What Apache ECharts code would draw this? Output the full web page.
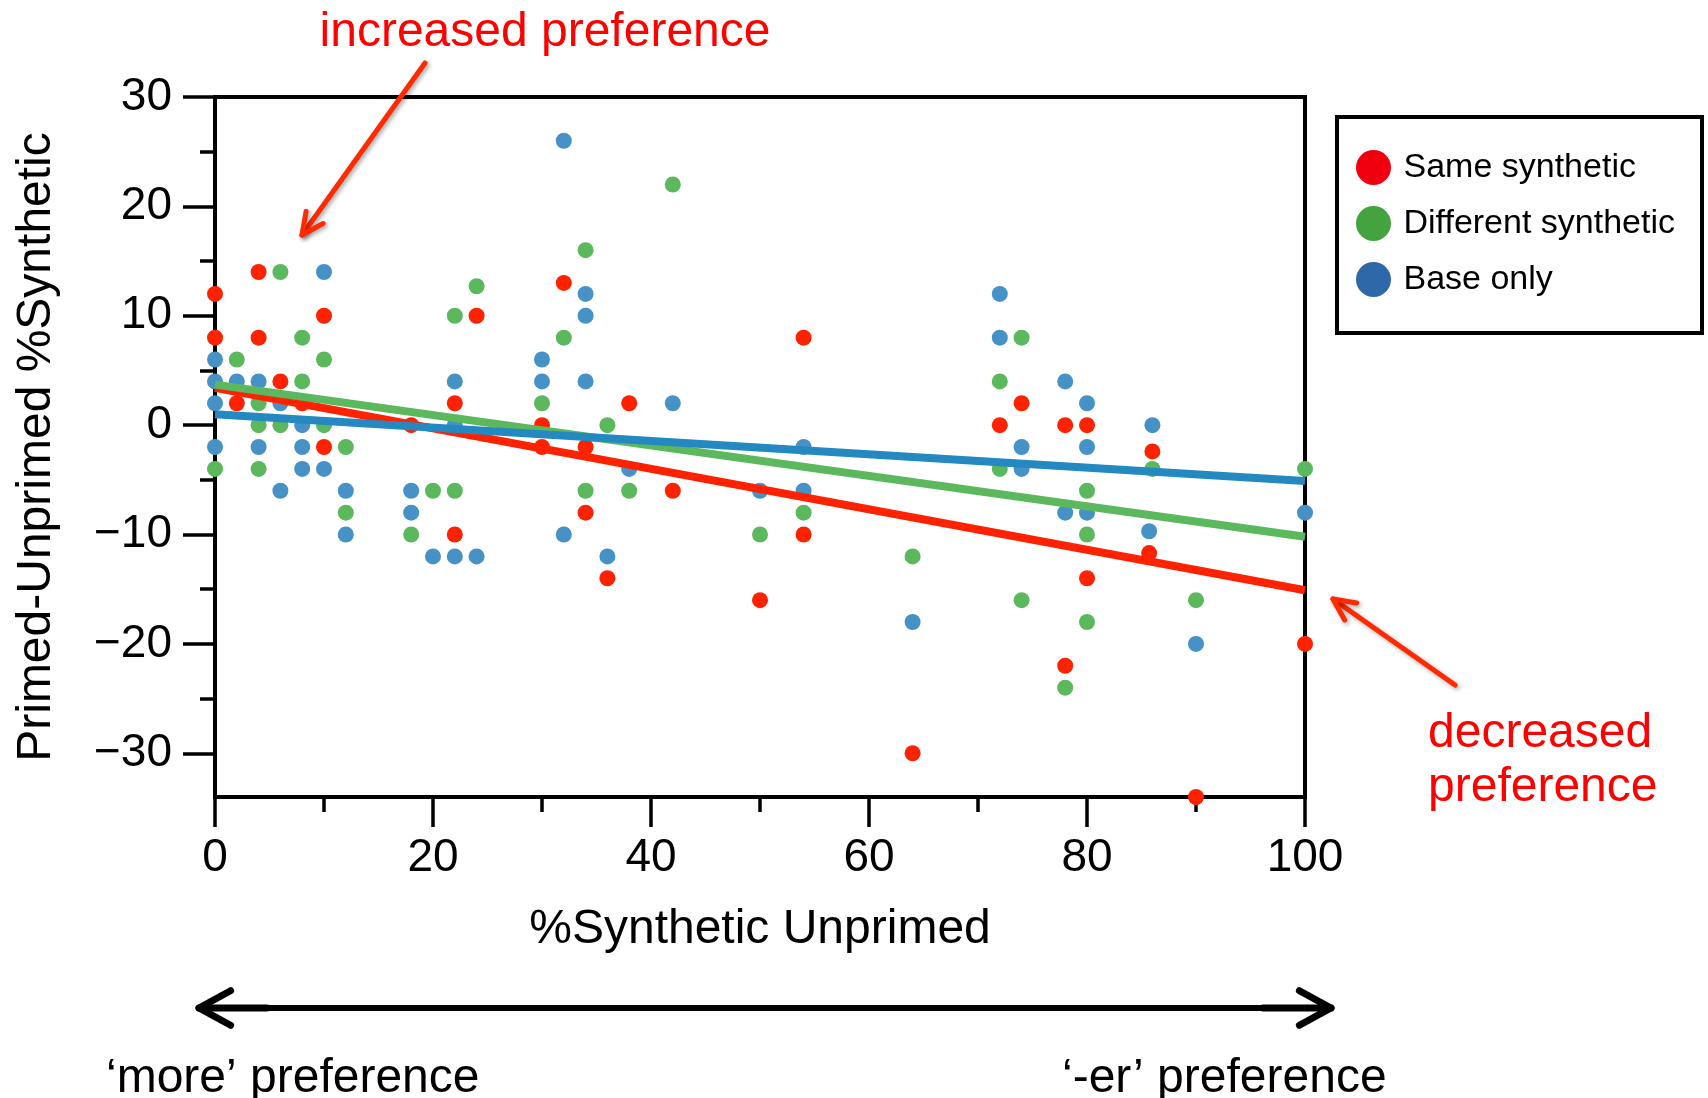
<!DOCTYPE html>
<html>
<head>
<meta charset="utf-8">
<style>
  html, body { margin: 0; padding: 0; background: #ffffff; }
  #chart { width: 1708px; height: 1098px; }
</style>
<script src="https://cdn.jsdelivr.net/npm/echarts@6.0.0/dist/echarts.min.js"></script>
</head>
<body>
<div id="chart"></div>
<script>
// [%Synthetic unprimed, primed - unprimed %Synthetic]
const sameSynthetic = [
  [0, 12], [0, 8], [2, 2], [4, 14], [4, 8], [6, 4], [8, 2], [10, 10], [10, -2],
  [18, 0], [22, 2], [22, -10], [24, 10], [30, 0], [30, -2], [32, 13], [34, -2],
  [34, -8], [36, -14], [38, 2], [42, -6], [50, -16], [54, 8], [54, -10], [64, -30],
  [72, 0], [74, 2], [78, 0], [78, -22], [80, 0], [80, -14], [86, -2.4], [85.7, -11.7],
  [90, -34], [100, -20]
];
const differentSynthetic = [
  [0, -4], [2, 6], [4, 2], [4, 0], [4, -4], [6, 14], [6, 0], [8, 8], [8, 4],
  [10, 6], [10, 0], [12, -2], [12, -8], [18, -10], [20, -6], [22, 10], [22, -6],
  [24, 12.7], [30, 2], [32, 8], [34, 16], [34, -6], [36, 0], [38, -6], [42, 22],
  [50, -10], [54, -8], [64, -12], [72, 4], [72, -4], [74, 8], [74, -16], [78, -24],
  [80, -6], [80, -10], [80, -18], [86, -4], [90, -16], [100, -4]
];
const baseOnly = [
  [0, 6], [0, 4], [0, 2], [0, -2], [2, 4], [4, 4], [4, -2], [6, 2], [6, -6],
  [8, 0], [8, -2], [8, -4], [10, 14], [10, -4], [12, -6], [12, -10], [18, -6],
  [18, -8], [20, -12], [22, 4], [22, 0], [22, -12], [24, -12], [30, 6], [30, 4],
  [32, 26], [32, -10], [34, 12], [34, 10], [34, 4], [36, -12], [38, -4], [42, 2],
  [50, -6], [54, -2], [54, -6], [64, -18], [72, 12], [72, 8], [74, -2], [74, -4],
  [78, 4], [78, -8], [80, 2], [80, -2], [80, -8], [86, 0], [85.7, -9.7], [90, -20],
  [100, -8]
];

// Fitted regression lines, values at the two ends of the x range
const trendX = [0, 100];
const sameTrend = [3.4, -15.1];
const differentTrend = [3.7, -10.2];
const baseTrend = [1.0, -5.1];

const seriesNames = ['Same synthetic', 'Different synthetic', 'Base only'];
const yMajorTicks = [-30, -20, -10, 0, 10, 20, 30];
const yMinorTicks = [-25, -15, -5, 5, 15, 25];

const FONT = '"Liberation Sans", Arial, Helvetica, sans-serif';
const DOT = { same: '#ff2200', diff: '#5cb85c', base: '#4691c5' };
const LINE = { same: '#ff2200', diff: '#5cb85c', base: '#2389c0' };
const KEY = { same: '#f0000f', diff: '#45a33f', base: '#2f68a8' };
const ARROW_RED = '#ff2a00';

const chart = echarts.init(document.getElementById('chart'), null, { renderer: 'canvas' });

function trendPoints(values) {
  return trendX.map((x, i) => [x, values[i]]);
}

function arrowElements(x1, y1, x2, y2, color, width, headLen, spread, shadow) {
  const ang = Math.atan2(y2 - y1, x2 - x1);
  const a1 = ang + Math.PI - spread;
  const a2 = ang + Math.PI + spread;
  const style = {
    stroke: color, lineWidth: width, lineCap: 'round', lineJoin: 'round', fill: null
  };
  if (shadow) {
    style.shadowColor = 'rgba(0,0,0,0.35)';
    style.shadowBlur = 4;
    style.shadowOffsetX = 2;
    style.shadowOffsetY = 2;
  }
  return [
    { type: 'line', shape: { x1, y1, x2, y2 }, style: Object.assign({}, style), silent: true, z: 100 },
    {
      type: 'polyline',
      shape: {
        points: [
          [x2 + headLen * Math.cos(a1), y2 + headLen * Math.sin(a1)],
          [x2, y2],
          [x2 + headLen * Math.cos(a2), y2 + headLen * Math.sin(a2)]
        ]
      },
      style: Object.assign({}, style), silent: true, z: 100
    }
  ];
}

function label(text, x, y, align, color, size) {
  return {
    type: 'text', x, y, silent: true, z: 100,
    style: {
      text, fill: color, fontSize: size, fontFamily: FONT,
      align: align, verticalAlign: 'middle'
    }
  };
}

const graphics = [].concat(
  [label('increased preference', 545, 33, 'center', '#ff0000', 48)],
  arrowElements(425, 63, 302, 235, ARROW_RED, 5, 24, 0.45, true),
  arrowElements(1455, 685, 1333, 599, ARROW_RED, 5, 24, 0.45, true),
  [label('decreased', 1428, 734, 'left', '#ff0000', 48),
   label('preference', 1428, 788, 'left', '#ff0000', 48)],
  arrowElements(1263, 1008, 1331, 1008, '#000000', 7, 36, 0.5, false),
  arrowElements(267, 1008, 199, 1008, '#000000', 7, 36, 0.5, false),
  [{ type: 'line', shape: { x1: 202, y1: 1008, x2: 1328, y2: 1008 },
     style: { stroke: '#000', lineWidth: 6 }, silent: true, z: 100 }],
  [label('\u2018more\u2019 preference', 106, 1079, 'left', '#000000', 48),
   label('\u2018-er\u2019 preference', 1062, 1079, 'left', '#000000', 48)]
);

const minusFmt = v => String(v).replace('-', '\u2212');

const option = {
  animation: false,
  backgroundColor: '#ffffff',
  textStyle: { fontFamily: FONT },
  grid: {
    left: 215, top: 97, width: 1090, height: 700,
    show: true, borderColor: '#000', borderWidth: 4, backgroundColor: 'transparent'
  },
  legend: {
    orient: 'vertical',
    left: 1337, top: 117,
    padding: [33, 27, 36, 19],
    itemGap: 21,
    itemWidth: 50, itemHeight: 35,
    icon: 'circle',
    borderColor: '#000', borderWidth: 4, backgroundColor: '#fff',
    textStyle: { fontSize: 34, color: '#000', fontFamily: FONT },
    data: [
      { name: seriesNames[0], itemStyle: { color: KEY.same } },
      { name: seriesNames[1], itemStyle: { color: KEY.diff } },
      { name: seriesNames[2], itemStyle: { color: KEY.base } }
    ]
  },
  xAxis: {
    type: 'value', min: 0, max: 100, interval: 20,
    name: '%Synthetic Unprimed', nameLocation: 'middle', nameGap: 109,
    nameTextStyle: { fontSize: 48, color: '#000', fontFamily: FONT },
    axisLine: { show: true, onZero: false, lineStyle: { color: '#000', width: 4 } },
    axisTick: { show: true, length: 30, lineStyle: { color: '#000', width: 3.5 } },
    minorTick: { show: true, splitNumber: 2, length: 15, lineStyle: { color: '#000', width: 3.5 } },
    axisLabel: { fontSize: 46, color: '#000', margin: 38, fontFamily: FONT },
    splitLine: { show: false }, minorSplitLine: { show: false }
  },
  yAxis: [
    {
      type: 'value', min: -34, max: 30, position: 'left',
      name: 'Primed-Unprimed %Synthetic', nameLocation: 'middle', nameGap: 154,
      nameTextStyle: { fontSize: 48, color: '#000', fontFamily: FONT },
      axisLine: { show: true, onZero: false, lineStyle: { color: '#000', width: 4 } },
      axisTick: { show: true, length: 32, customValues: yMajorTicks, lineStyle: { color: '#000', width: 3.5 } },
      axisLabel: { fontSize: 46, color: '#000', margin: 43, customValues: yMajorTicks, formatter: minusFmt, fontFamily: FONT },
      splitLine: { show: false }
    },
    {
      type: 'value', min: -34, max: 30, position: 'left', offset: 0,
      axisLine: { show: false },
      axisTick: { show: true, length: 15, customValues: yMinorTicks, lineStyle: { color: '#000', width: 3.5 } },
      axisLabel: { show: false },
      splitLine: { show: false }
    }
  ],
  series: [
    { name: seriesNames[0], type: 'scatter', data: sameSynthetic, symbolSize: 16, itemStyle: { color: DOT.same, opacity: 1 }, z: 2 },
    { name: seriesNames[1], type: 'scatter', data: differentSynthetic, symbolSize: 16, itemStyle: { color: DOT.diff, opacity: 1 }, z: 2 },
    { name: seriesNames[2], type: 'scatter', data: baseOnly, symbolSize: 16, itemStyle: { color: DOT.base, opacity: 1 }, z: 2 },
    { name: 'same-fit', type: 'line', data: trendPoints(sameTrend), showSymbol: false, silent: true, lineStyle: { color: LINE.same, width: 8 }, z: 3 },
    { name: 'different-fit', type: 'line', data: trendPoints(differentTrend), showSymbol: false, silent: true, lineStyle: { color: LINE.diff, width: 8 }, z: 3 },
    { name: 'base-fit', type: 'line', data: trendPoints(baseTrend), showSymbol: false, silent: true, lineStyle: { color: LINE.base, width: 8 }, z: 3 }
  ],
  graphic: graphics
};

chart.setOption(option);
</script>
</body>
</html>
